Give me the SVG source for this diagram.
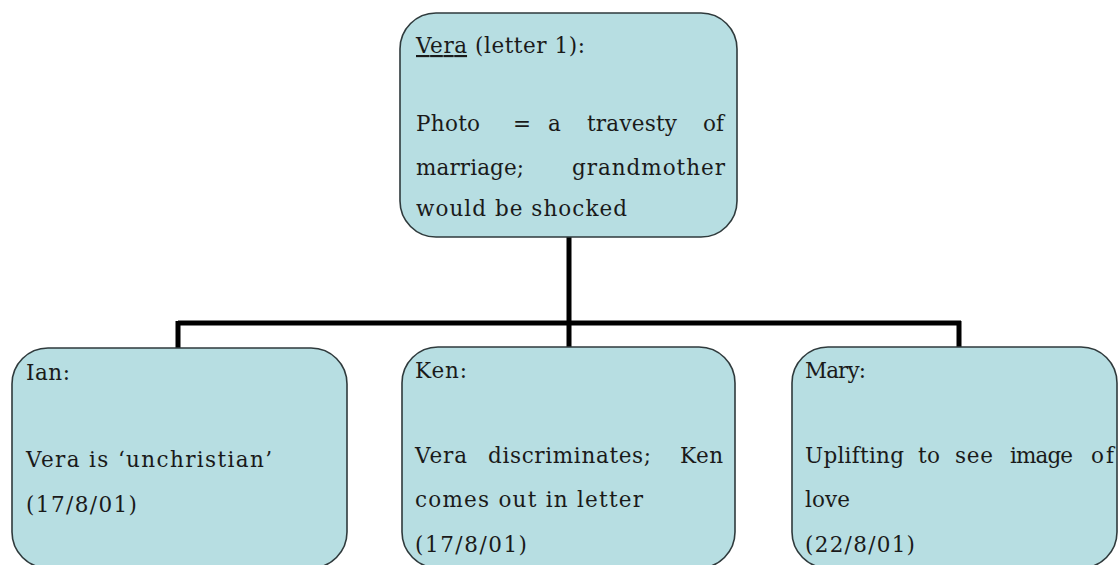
<svg xmlns="http://www.w3.org/2000/svg" width="1119" height="565" viewBox="0 0 1119 565">
<style>
.box{fill:#b7dee2;stroke:#2f3a3c;stroke-width:1.6}
.t{font-family:"DejaVu Serif","Liberation Serif",serif;font-size:21.5px;fill:#1a1a1a}
.c{fill:none;stroke:#000;stroke-width:5;stroke-linejoin:miter}
</style>
<rect width="1119" height="565" fill="#fff"/>
<g id="connectors">
<path class="c" d="M569,237 V323 M178,323 H961 M178,321 V348 M569,321 V348 M959,321 V348"/>
</g>
<g id="vera">
<rect class="box" x="400" y="13" width="337" height="224" rx="36" ry="36"/>
<text class="t" x="416" y="53" textLength="169" lengthAdjust="spacing"><tspan text-decoration="underline">Vera</tspan> (letter 1):</text>
<text class="t" x="416" y="131" textLength="64" lengthAdjust="spacing">Photo</text>
<text class="t" x="513" y="131">=</text>
<text class="t" x="548" y="131" textLength="12" lengthAdjust="spacing">a</text>
<text class="t" x="587" y="131" textLength="90" lengthAdjust="spacing">travesty</text>
<text class="t" x="703" y="131" textLength="21" lengthAdjust="spacing">of</text>
<text class="t" x="416" y="175" textLength="108" lengthAdjust="spacing">marriage;</text>
<text class="t" x="572" y="175" textLength="153" lengthAdjust="spacing">grandmother</text>
<text class="t" x="416" y="216" textLength="211" lengthAdjust="spacing">would be shocked</text>
</g>
<g id="ian">
<rect class="box" x="12" y="348" width="335" height="220" rx="36" ry="36"/>
<text class="t" x="26" y="380" textLength="44" lengthAdjust="spacing">Ian:</text>
<text class="t" x="26" y="467" textLength="246" lengthAdjust="spacing">Vera is ‘unchristian’</text>
<text class="t" x="26" y="512" textLength="111" lengthAdjust="spacing">(17/8/01)</text>
</g>
<g id="ken">
<rect class="box" x="402" y="347" width="333" height="221" rx="36" ry="36"/>
<text class="t" x="415" y="378" textLength="52" lengthAdjust="spacing">Ken:</text>
<text class="t" x="415" y="463" textLength="52" lengthAdjust="spacing">Vera</text>
<text class="t" x="488" y="463" textLength="163" lengthAdjust="spacing">discriminates;</text>
<text class="t" x="680" y="463" textLength="43" lengthAdjust="spacing">Ken</text>
<text class="t" x="415" y="507" textLength="228" lengthAdjust="spacing">comes out in letter</text>
<text class="t" x="415" y="552" textLength="112" lengthAdjust="spacing">(17/8/01)</text>
</g>
<g id="mary">
<rect class="box" x="792" y="347" width="325" height="221" rx="36" ry="36"/>
<text class="t" x="805" y="378" textLength="61" lengthAdjust="spacing">Mary:</text>
<text class="t" x="805" y="463" textLength="99" lengthAdjust="spacing">Uplifting</text>
<text class="t" x="918" y="463" textLength="22" lengthAdjust="spacing">to</text>
<text class="t" x="955" y="463" textLength="38" lengthAdjust="spacing">see</text>
<text class="t" x="1010" y="463" textLength="63" lengthAdjust="spacing">image</text>
<text class="t" x="1091" y="463" textLength="23" lengthAdjust="spacing">of</text>
<text class="t" x="805" y="507" textLength="45" lengthAdjust="spacing">love</text>
<text class="t" x="805" y="552" textLength="110" lengthAdjust="spacing">(22/8/01)</text>
</g>
</svg>
